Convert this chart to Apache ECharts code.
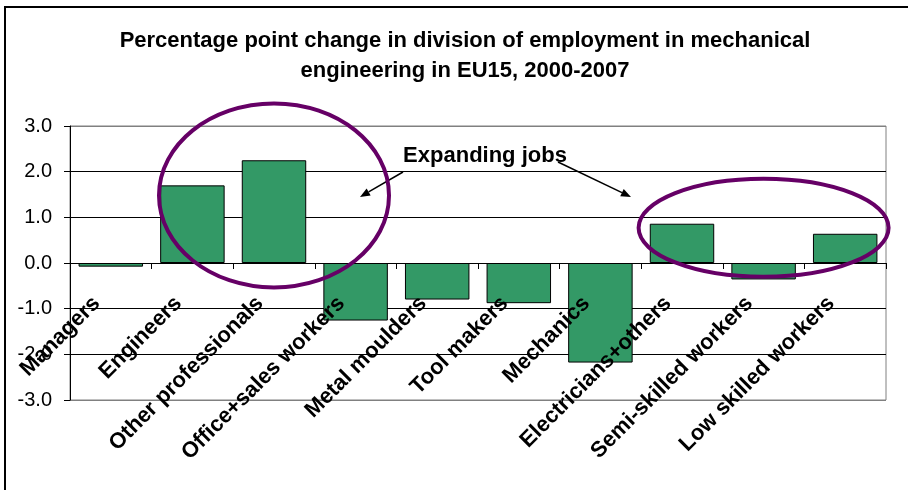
<!DOCTYPE html>
<html>
<head>
<meta charset="utf-8">
<script src="https://cdn.jsdelivr.net/npm/echarts@6/dist/echarts.min.js"></script>
<style>
  html, body { margin: 0; padding: 0; background: #fff; }
  #chart { width: 908px; height: 490px; }
</style>
</head>
<body>
<div id="chart"></div>
<script>
// Occupational groups in mechanical engineering
const categories = [
  'Managers', 'Engineers', 'Other professionals', 'Office+sales workers',
  'Metal moulders', 'Tool makers', 'Mechanics', 'Electricians+others',
  'Semi-skilled workers', 'Low skilled workers'
];
// Percentage point change in share of employment, 2000-2007
const changes = [-0.08, 1.70, 2.25, -1.26, -0.80, -0.88, -2.18, 0.86, -0.36, 0.64];
// Value axis ticks
const yTicks = [-3.0, -2.0, -1.0, 0.0, 1.0, 2.0, 3.0];

const titleLines = [
  'Percentage point change in division of employment in mechanical',
  'engineering in EU15, 2000-2007'
];
const noteText = 'Expanding jobs';

const FONT = '"Liberation Sans", Arial, sans-serif';
const chart = echarts.init(document.getElementById('chart'), null, { renderer: 'canvas' });

const option = {
  animation: false,
  backgroundColor: '#fff',
  grid: {
    left: 70, right: 22, top: 126, bottom: 90,
    containLabel: false, outerBoundsMode: 'none',
    show: true, borderColor: '#808080', borderWidth: 1, backgroundColor: 'transparent'
  },
  xAxis: {
    type: 'category',
    data: categories,
    z: 10,
    axisLine: { onZero: true, lineStyle: { color: '#000', width: 1 } },
    axisTick: { show: true, length: 6, lineStyle: { color: '#000' } },
    axisLabel: {
      rotate: 45, margin: -114, interval: 0, hideOverlap: false,
      padding: [0, 20, 0, 0],
      color: '#000', fontFamily: FONT, fontWeight: 'bold', fontSize: 22
    },
    splitLine: { show: false }
  },
  yAxis: {
    type: 'value',
    min: yTicks[0], max: yTicks[yTicks.length - 1], interval: 1,
    axisLine: { show: true, lineStyle: { color: '#000' } },
    axisTick: { show: true, length: 6, lineStyle: { color: '#000' } },
    axisLabel: {
      margin: 18, color: '#000', fontFamily: FONT, fontSize: 20,
      formatter: v => v.toFixed(1)
    },
    splitLine: {
      show: true,
      lineStyle: { color: ['#808080', '#000', '#000', '#000', '#000', '#000', '#808080'], width: 1 }
    }
  },
  series: [{
    type: 'bar',
    data: changes,
    barCategoryGap: '21%',
    itemStyle: { color: '#339966', borderColor: '#000', borderWidth: 1 }
  }]
};
chart.setOption(option);

// Annotations: title, frame, highlight ellipses and pointer arrows
function arrow(x1, y1, x2, y2) {
  const ang = Math.atan2(y2 - y1, x2 - x1);
  const L = 10, W = 4;
  const bx = x2 - L * Math.cos(ang), by = y2 - L * Math.sin(ang);
  const px = -Math.sin(ang) * W, py = Math.cos(ang) * W;
  return [
    { type: 'line', shape: { x1, y1, x2: bx, y2: by }, style: { stroke: '#000', lineWidth: 1.5 } },
    { type: 'polygon', shape: { points: [[x2, y2], [bx + px, by + py], [bx - px, by - py]] }, style: { fill: '#000' } }
  ];
}

const leftC = chart.convertToPixel({ gridIndex: 0 }, [1.5, 1.48]);
const rightC = chart.convertToPixel({ gridIndex: 0 }, [8, 0.77]);

const graphics = [
  { type: 'rect', shape: { x: 5, y: 7, width: 930, height: 520 }, style: { fill: 'none', stroke: '#000', lineWidth: 2 }, z: 100 },
  { type: 'text', x: 465, y: 41, style: { text: titleLines[0], font: 'bold 22px ' + FONT, fill: '#000', textAlign: 'center', textVerticalAlign: 'middle' }, z: 100 },
  { type: 'text', x: 465, y: 71, style: { text: titleLines[1], font: 'bold 22px ' + FONT, fill: '#000', textAlign: 'center', textVerticalAlign: 'middle' }, z: 100 },
  { type: 'ellipse', shape: { cx: leftC[0], cy: leftC[1], rx: 115, ry: 92 }, style: { fill: 'none', stroke: '#660066', lineWidth: 4 }, z: 100 },
  { type: 'ellipse', shape: { cx: rightC[0], cy: rightC[1], rx: 125, ry: 49 }, style: { fill: 'none', stroke: '#660066', lineWidth: 4 }, z: 100 },
  { type: 'text', x: 485, y: 156, style: { text: noteText, font: 'bold 22px ' + FONT, fill: '#000', textAlign: 'center', textVerticalAlign: 'middle' }, z: 100 },
  ...arrow(403, 172, 360, 197),
  ...arrow(558, 162, 631, 197)
];
chart.setOption({ graphic: graphics.map(g => Object.assign({ silent: true }, g)) });
</script>
</body>
</html>
